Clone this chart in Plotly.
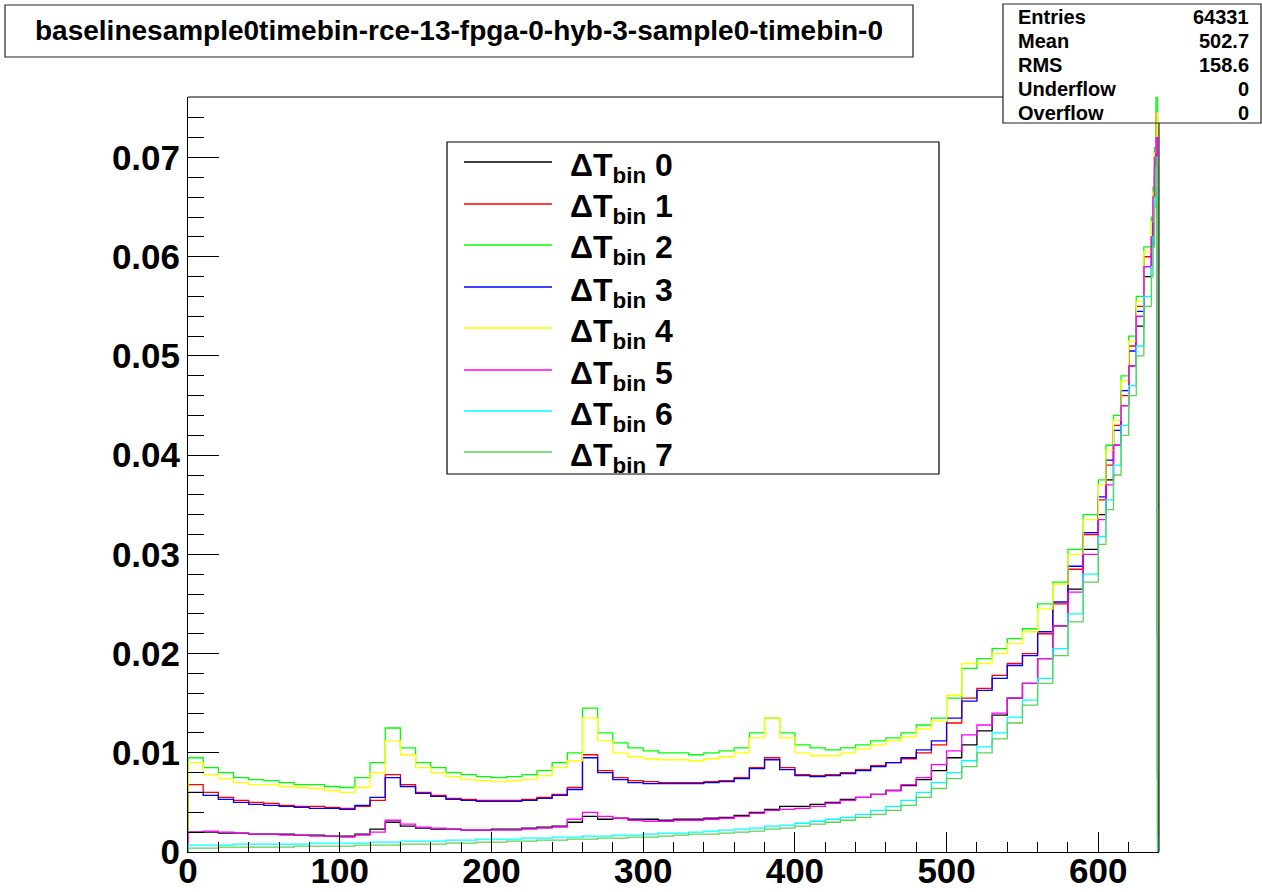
import plotly.graph_objects as go

# ---------------- data ----------------
# bin edges (channels): 10-wide up to 600, 5-wide to 635, then single channels
bin_edges = list(range(0, 601, 10)) + [605, 610, 615, 620, 625, 630, 635, 636, 637, 638, 639, 640]

series_names = ["ΔT<sub>bin</sub> 0", "ΔT<sub>bin</sub> 1", "ΔT<sub>bin</sub> 2", "ΔT<sub>bin</sub> 3",
                "ΔT<sub>bin</sub> 4", "ΔT<sub>bin</sub> 5", "ΔT<sub>bin</sub> 6", "ΔT<sub>bin</sub> 7"]
series_colors = ["#000000", "#ff0000", "#00ff00", "#0000ff", "#ffff00", "#ff00ff", "#00ffff", "#59d454"]

dt0 = [0.0020, 0.0020, 0.0019, 0.0019, 0.0018, 0.0018, 0.0018, 0.0017, 0.0017, 0.0016,
       0.0016, 0.0018, 0.0023, 0.0030, 0.0026, 0.0024, 0.0023, 0.0023, 0.0022, 0.0022,
       0.0023, 0.0023, 0.0024, 0.0025, 0.0026, 0.0030, 0.0036, 0.0033, 0.0034, 0.0033,
       0.0033, 0.0032, 0.0033, 0.0033, 0.0034, 0.0035, 0.0037, 0.0040, 0.0043, 0.0046,
       0.0046, 0.0048, 0.0050, 0.0053, 0.0055, 0.0058, 0.0062, 0.0067, 0.0073, 0.0082,
       0.0095, 0.0108, 0.0122, 0.0138, 0.0155, 0.0170, 0.0195, 0.0228, 0.0265, 0.0305,
       0.0340, 0.0375, 0.0410, 0.0450, 0.0490, 0.0530, 0.0580, 0.0610, 0.0640, 0.0670, 0.0660, 0.0074]
dt1 = [0.0068, 0.0060, 0.0055, 0.0052, 0.0050, 0.0049, 0.0047, 0.0046, 0.0046, 0.0045,
       0.0044, 0.0046, 0.0052, 0.0078, 0.0068, 0.0060, 0.0057, 0.0054, 0.0053, 0.0052,
       0.0052, 0.0052, 0.0053, 0.0055, 0.0058, 0.0065, 0.0098, 0.0082, 0.0075, 0.0072,
       0.0071, 0.0070, 0.0070, 0.0070, 0.0071, 0.0072, 0.0075, 0.0085, 0.0095, 0.0085,
       0.0078, 0.0077, 0.0078, 0.0080, 0.0083, 0.0087, 0.0090, 0.0094, 0.0100, 0.0108,
       0.0130, 0.0155, 0.0165, 0.0178, 0.0190, 0.0200, 0.0220, 0.0250, 0.0285, 0.0320,
       0.0355, 0.0390, 0.0430, 0.0460, 0.0510, 0.0550, 0.0600, 0.0620, 0.0650, 0.0680, 0.0700, 0.0222]
dt2 = [0.0095, 0.0085, 0.0080, 0.0075, 0.0073, 0.0072, 0.0070, 0.0068, 0.0068, 0.0066,
       0.0065, 0.0075, 0.0090, 0.0125, 0.0105, 0.0090, 0.0085, 0.0080, 0.0078, 0.0076,
       0.0075, 0.0076, 0.0078, 0.0082, 0.0090, 0.0100, 0.0145, 0.0120, 0.0110, 0.0105,
       0.0102, 0.0100, 0.0100, 0.0098, 0.0100, 0.0102, 0.0105, 0.0120, 0.0135, 0.0120,
       0.0108, 0.0105, 0.0103, 0.0105, 0.0108, 0.0112, 0.0115, 0.0120, 0.0128, 0.0135,
       0.0155, 0.0185, 0.0195, 0.0205, 0.0215, 0.0225, 0.0250, 0.0272, 0.0305, 0.0340,
       0.0375, 0.0410, 0.0440, 0.0480, 0.0520, 0.0560, 0.0610, 0.0640, 0.0670, 0.0710, 0.0761, 0.0352]
dt3 = [0.0060, 0.0057, 0.0053, 0.0050, 0.0048, 0.0047, 0.0046, 0.0045, 0.0044, 0.0044,
       0.0043, 0.0047, 0.0055, 0.0075, 0.0066, 0.0059, 0.0056, 0.0053, 0.0052, 0.0051,
       0.0051, 0.0051, 0.0052, 0.0054, 0.0057, 0.0063, 0.0095, 0.0080, 0.0073, 0.0070,
       0.0069, 0.0069, 0.0069, 0.0069, 0.0070, 0.0071, 0.0074, 0.0084, 0.0093, 0.0083,
       0.0077, 0.0076, 0.0077, 0.0079, 0.0082, 0.0086, 0.0090, 0.0095, 0.0103, 0.0112,
       0.0135, 0.0152, 0.0163, 0.0175, 0.0188, 0.0198, 0.0222, 0.0252, 0.0288, 0.0322,
       0.0358, 0.0395, 0.0425, 0.0465, 0.0505, 0.0545, 0.0590, 0.0620, 0.0660, 0.0690, 0.0745, 0.0216]
dt4 = [0.0090, 0.0078, 0.0074, 0.0070, 0.0068, 0.0068, 0.0066, 0.0065, 0.0064, 0.0062,
       0.0060, 0.0065, 0.0080, 0.0112, 0.0098, 0.0085, 0.0080, 0.0076, 0.0073, 0.0072,
       0.0071, 0.0072, 0.0073, 0.0077, 0.0085, 0.0092, 0.0135, 0.0112, 0.0100, 0.0096,
       0.0094, 0.0093, 0.0093, 0.0092, 0.0094, 0.0096, 0.0100, 0.0115, 0.0135, 0.0115,
       0.0100, 0.0097, 0.0097, 0.0100, 0.0104, 0.0108, 0.0112, 0.0116, 0.0124, 0.0132,
       0.0158, 0.0190, 0.0190, 0.0200, 0.0210, 0.0222, 0.0245, 0.0270, 0.0300, 0.0335,
       0.0370, 0.0405, 0.0435, 0.0475, 0.0515, 0.0555, 0.0605, 0.0635, 0.0665, 0.0705, 0.0745, 0.0345]
dt5 = [0.0020, 0.0021, 0.0020, 0.0019, 0.0018, 0.0018, 0.0017, 0.0017, 0.0016, 0.0016,
       0.0015, 0.0017, 0.0020, 0.0032, 0.0028, 0.0025, 0.0024, 0.0023, 0.0022, 0.0022,
       0.0022, 0.0022, 0.0023, 0.0024, 0.0025, 0.0033, 0.0040, 0.0036, 0.0034, 0.0032,
       0.0031, 0.0031, 0.0032, 0.0032, 0.0033, 0.0034, 0.0036, 0.0039, 0.0042, 0.0043,
       0.0044, 0.0046, 0.0049, 0.0052, 0.0055, 0.0058, 0.0062, 0.0068, 0.0075, 0.0088,
       0.0102, 0.0118, 0.0128, 0.0140, 0.0155, 0.0170, 0.0195, 0.0228, 0.0262, 0.0300,
       0.0335, 0.0370, 0.0410, 0.0450, 0.0490, 0.0540, 0.0590, 0.0620, 0.0660, 0.0700, 0.0720, 0.0080]
dt6 = [0.0007, 0.0007, 0.0007, 0.0008, 0.0008, 0.0008, 0.0008, 0.0008, 0.0009, 0.0009,
       0.0009, 0.0009, 0.0010, 0.0010, 0.0011, 0.0011, 0.0011, 0.0012, 0.0012, 0.0013,
       0.0013, 0.0013, 0.0014, 0.0014, 0.0015, 0.0015, 0.0016, 0.0016, 0.0017, 0.0017,
       0.0018, 0.0019, 0.0019, 0.0020, 0.0021, 0.0022, 0.0023, 0.0024, 0.0026, 0.0027,
       0.0029, 0.0031, 0.0033, 0.0035, 0.0038, 0.0042, 0.0046, 0.0052, 0.0060, 0.0070,
       0.0080, 0.0092, 0.0106, 0.0120, 0.0136, 0.0153, 0.0175, 0.0205, 0.0240, 0.0280,
       0.0318, 0.0355, 0.0390, 0.0430, 0.0470, 0.0510, 0.0560, 0.0590, 0.0620, 0.0660, 0.0690, 0.0014]
dt7 = [0.0004, 0.0004, 0.0005, 0.0005, 0.0005, 0.0005, 0.0005, 0.0006, 0.0006, 0.0006,
       0.0006, 0.0007, 0.0007, 0.0007, 0.0008, 0.0008, 0.0008, 0.0009, 0.0009, 0.0010,
       0.0010, 0.0011, 0.0011, 0.0012, 0.0012, 0.0013, 0.0013, 0.0014, 0.0014, 0.0015,
       0.0015, 0.0016, 0.0017, 0.0018, 0.0018, 0.0019, 0.0020, 0.0021, 0.0023, 0.0024,
       0.0026, 0.0028, 0.0030, 0.0032, 0.0035, 0.0038, 0.0042, 0.0047, 0.0055, 0.0064,
       0.0074, 0.0086, 0.0100, 0.0114, 0.0130, 0.0148, 0.0170, 0.0198, 0.0232, 0.0272,
       0.0310, 0.0345, 0.0380, 0.0420, 0.0460, 0.0500, 0.0550, 0.0580, 0.0610, 0.0650, 0.0700, 0.0000]

series_values = [dt0, dt1, dt2, dt3, dt4, dt5, dt6, dt7]

title_text = "baselinesample0timebin-rce-13-fpga-0-hyb-3-sample0-timebin-0"
stats_labels = ["Entries", "Mean", "RMS", "Underflow", "Overflow"]
stats_values = ["64331", "502.7", "158.6", "0", "0"]

x_range = [0, 640]
y_range = [0, 0.0761]

# ---------------- layout geometry (page pixels) ----------------
W, H = 1262, 892
L, R, T, B = 188, 1159, 97, 852          # plot frame
PW, PH = R - L, B - T


def px(x):
    return (x - L) / PW


def py(y):
    return (B - y) / PH


FONT = "Liberation Sans, Arial, Helvetica, sans-serif"

fig = go.Figure()

for name, color, vals in zip(series_names, series_colors, series_values):
    xs = [bin_edges[0]] + bin_edges + [bin_edges[-1]]
    ys = [0] + vals + [vals[-1], 0]
    fig.add_trace(go.Scatter(x=xs, y=ys, mode="lines", line=dict(color=color, width=1.3, shape="hv"),
                             name=name, showlegend=False, hoverinfo="skip"))

shapes = []
annotations = []

# frame top and right (partially hidden behind stats box)
shapes.append(dict(type="line", xref="paper", yref="paper", x0=px(L), x1=px(1003), y0=1, y1=1,
                   line=dict(color="#000", width=1)))
shapes.append(dict(type="line", xref="paper", yref="paper", x0=1, x1=1, y0=py(123), y1=0,
                   line=dict(color="#000", width=1)))

# title box
shapes.append(dict(type="rect", xref="paper", yref="paper", x0=px(5), x1=px(913), y0=py(5), y1=py(57),
                   line=dict(color="#222", width=1.2), fillcolor="rgba(0,0,0,0)"))
annotations.append(dict(text="<b>%s</b>" % title_text, xref="paper", yref="paper", x=px(459), y=py(31),
                        xanchor="center", yanchor="middle", showarrow=False,
                        font=dict(family=FONT, size=28, color="#000")))

# stats box
shapes.append(dict(type="rect", xref="paper", yref="paper", x0=px(1003), x1=px(1261), y0=py(4), y1=py(123),
                   line=dict(color="#222", width=1.2), fillcolor="rgba(0,0,0,0)"))
stat_rows_y = [17, 41, 65, 89, 113]
for lab, val, yy in zip(stats_labels, stats_values, stat_rows_y):
    annotations.append(dict(text="<b>%s</b>" % lab, xref="paper", yref="paper", x=px(1016), y=py(yy),
                            xanchor="left", yanchor="middle", showarrow=False,
                            font=dict(family=FONT, size=20, color="#000")))
    annotations.append(dict(text="<b>%s</b>" % val, xref="paper", yref="paper", x=px(1251), y=py(yy),
                            xanchor="right", yanchor="middle", showarrow=False,
                            font=dict(family=FONT, size=20, color="#000")))

# legend box (manual, ROOT style)
shapes.append(dict(type="rect", xref="paper", yref="paper", x0=px(447), x1=px(939), y0=py(142), y1=py(474),
                   line=dict(color="#000", width=1.2), fillcolor="white"))
legend_rows_y = [162, 204, 245, 287, 328, 370, 411, 452]
for name, color, yy in zip(series_names, series_colors, legend_rows_y):
    shapes.append(dict(type="line", xref="paper", yref="paper", x0=px(464), x1=px(552), y0=py(yy), y1=py(yy),
                       line=dict(color=color, width=1.5)))
    annotations.append(dict(text="<b>%s</b>" % name, xref="paper", yref="paper", x=px(568), y=py(yy + 5),
                            xanchor="left", yanchor="middle", showarrow=False,
                            font=dict(family=FONT, size=32, color="#000")))

fig.update_layout(
    width=W, height=H,
    margin=dict(l=L, r=W - R, t=T, b=H - B, pad=0, autoexpand=False),
    paper_bgcolor="white", plot_bgcolor="white",
    showlegend=False,
    shapes=shapes, annotations=annotations,
    xaxis=dict(range=x_range, showgrid=False, zeroline=False, showline=True, linecolor="#000", linewidth=1,
               mirror=False, automargin=False, ticks="inside", ticklen=20, tickwidth=1, tickcolor="#000",
               tick0=0, dtick=100, minor=dict(ticks="inside", ticklen=10, dtick=20, tickcolor="#000"),
               ticklabelstandoff=-12,
               tickfont=dict(family=FONT, size=35, color="#000", weight="bold")),
    yaxis=dict(range=y_range, showgrid=False, zeroline=False, showline=True, linecolor="#000", linewidth=1,
               mirror=False, automargin=False, ticks="inside", ticklen=31, tickwidth=1, tickcolor="#000",
               tick0=0, dtick=0.01, minor=dict(ticks="inside", ticklen=16, dtick=0.002, tickcolor="#000"),
               tickfont=dict(family=FONT, size=35, color="#000", weight="bold")),
)

# remove the browser's default 8px body margin so the page matches the figure exactly
fig.write_html("out.html", config={"displayModeBar": False},
               post_script="document.body.style.margin='0px';document.body.style.overflow='hidden';")
